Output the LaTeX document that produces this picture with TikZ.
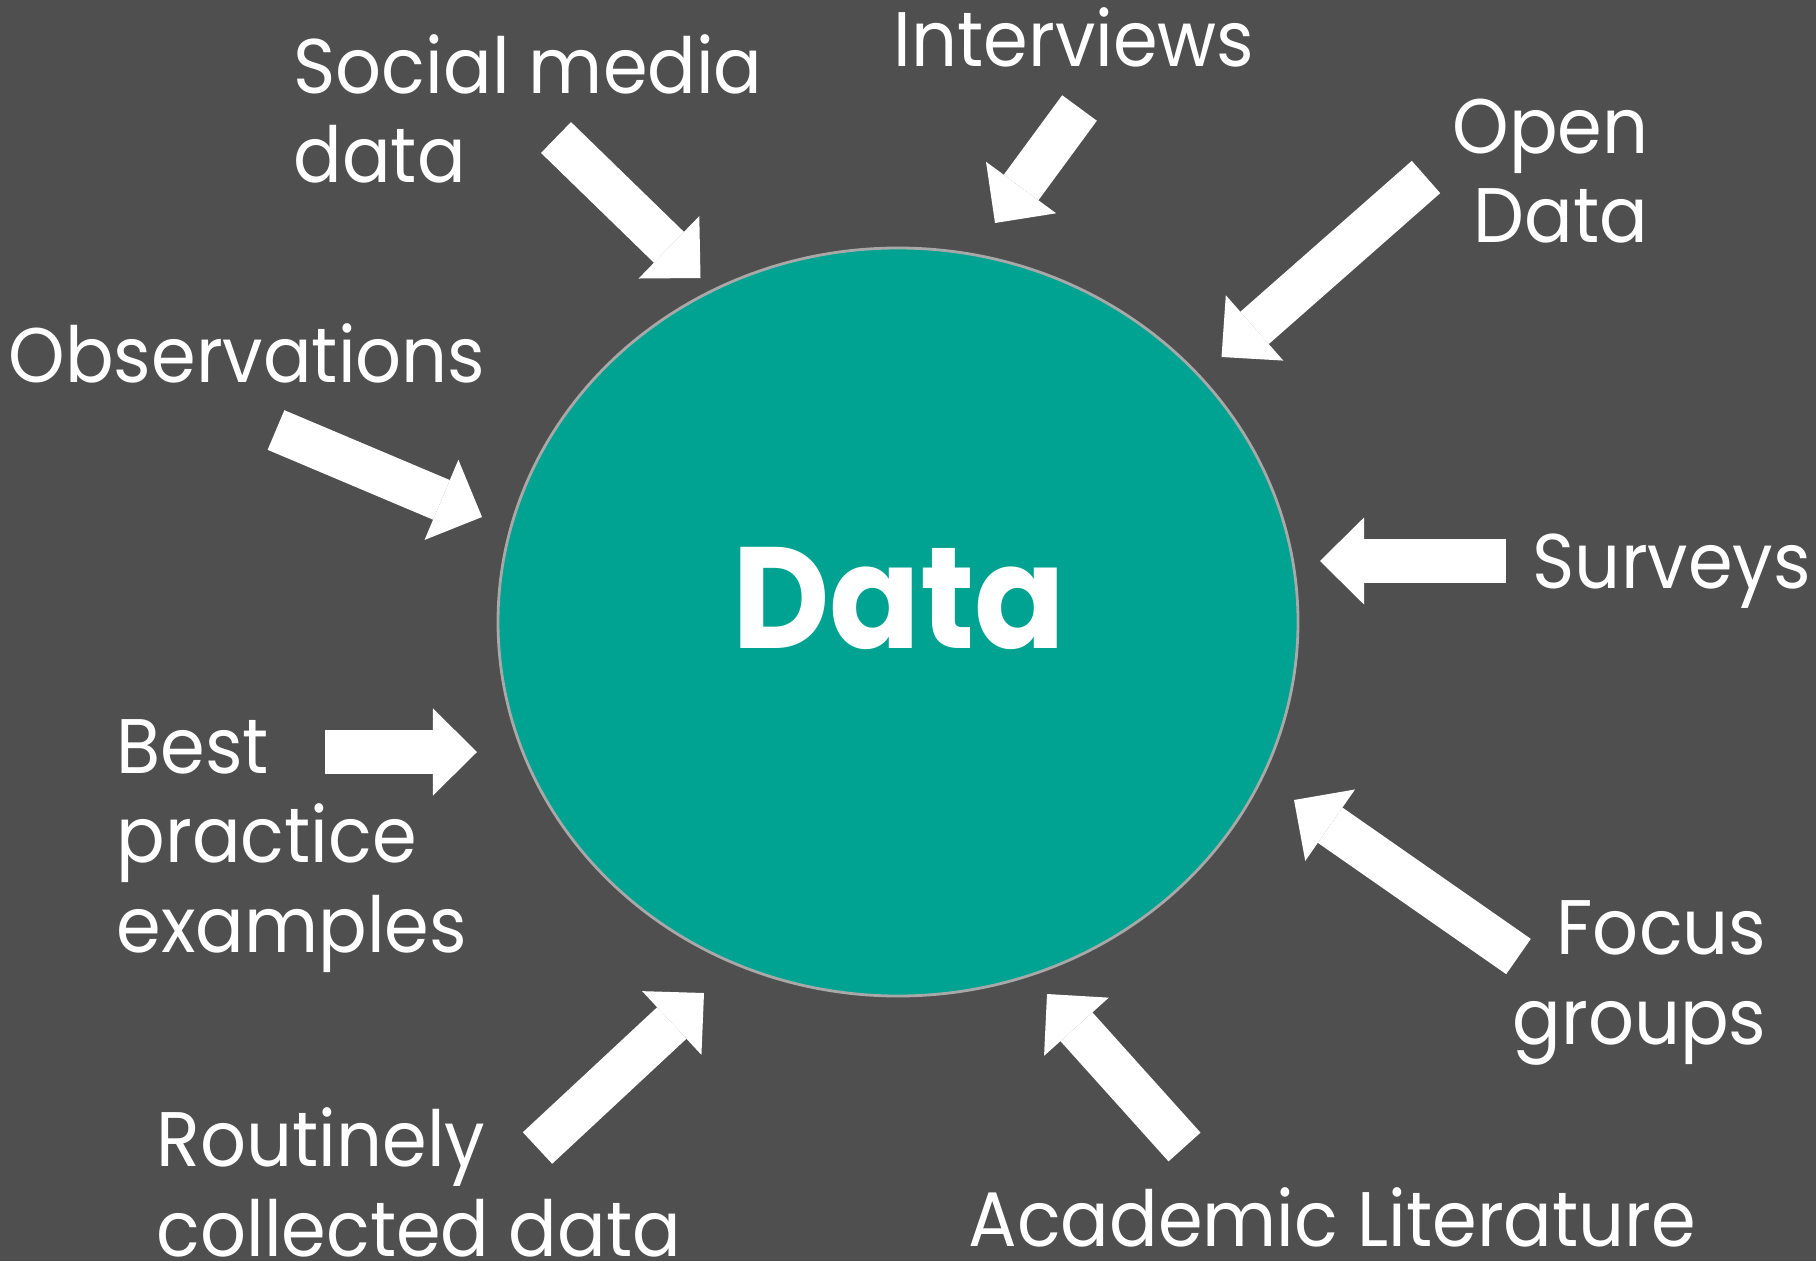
\documentclass[tikz,border=0pt]{standalone}
\usepackage{fontspec}
\setmainfont{Poppins}[FakeStretch=0.93]
\usetikzlibrary{arrows.meta}
\definecolor{slategrey}{HTML}{4F4F4F}
\definecolor{tealfill}{HTML}{00A291}
\definecolor{rimgrey}{HTML}{A8A8A8}

\begin{document}
\begin{tikzpicture}[x=0.01cm,y=-0.01cm,
	lbl/.style={white,inner sep=0pt,font=\fontsize{22}{25.4}\selectfont},
	fat/.style={white,line width=0.43cm,-{Triangle[length=0.44cm,width=0.87cm,line width=0pt]}}]
	\useasboundingbox (0,0) rectangle (1816,1261);
	\fill[slategrey] (0,0) rectangle (1816,1261);
	
	\draw[rimgrey,fill=tealfill,line width=0.8pt] (898,622) ellipse [x radius=400,y radius=374];
	\node[white,inner sep=0pt,anchor=base,font=\fontsize{41}{48}\selectfont\bfseries] (data) at (899,648) {Data};
	
	% labels (multi-line ones sit on their last line)
	\node[lbl,anchor=base west,align=left] (social) at (293,183) {Social media\\data};
	\node[lbl,anchor=base west] (interviews) at (893,67) {Interviews};
	\node[lbl,anchor=base east,align=right] (opendata) at (1649,243) {Open\\Data};
	\node[lbl,anchor=base west] (observe) at (8,383) {Observations};
	\node[lbl,anchor=base west] (surveys) at (1532,588) {Surveys};
	\node[lbl,anchor=base west,align=left] (bestprac) at (116,952) {Best\\practice\\examples};
	\node[lbl,anchor=base east,align=right] (focus) at (1767,1044) {Focus\\groups};
	\node[lbl,anchor=base west] (academic) at (968,1246) {Academic Literature};
	\node[lbl,anchor=base west,align=left] (routine) at (156,1256) {Routinely\\collected data};
	
	% arrows
	\coordinate (socialtail) at (556,137.5);   \coordinate (socialtip) at (700.5,278);
	\coordinate (interviewstail) at (1079.5,108); \coordinate (interviewstip) at (995,223);
	\coordinate (opentail) at (1426,177);      \coordinate (opentip) at (1221.5,357);
	\coordinate (observetail) at (276,430);    \coordinate (observetip) at (482,517);
	\coordinate (surveystail) at (1506,561);   \coordinate (surveystip) at (1320,561);
	\coordinate (besttail) at (325,752);       \coordinate (besttip) at (477,752);
	\coordinate (focustail) at (1518.5,956.5); \coordinate (focustip) at (1294,800);
	\coordinate (academictail) at (1184.5,1147); \coordinate (academictip) at (1047,994);
	\coordinate (routinetail) at (537.5,1148); \coordinate (routinetip) at (704,993);
	
	\foreach \i in {social,interviews,open,observe,surveys,best,focus,academic,routine}{
		\draw[fat] (\i tail) -- (\i tip);
	}
\end{tikzpicture}
\end{document}
